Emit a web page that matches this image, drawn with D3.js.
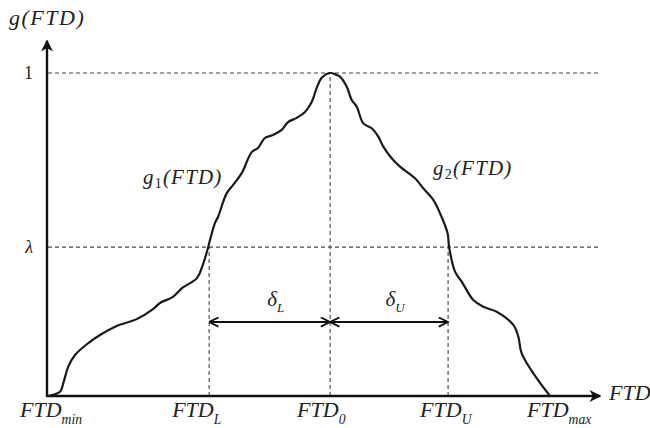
<!DOCTYPE html>
<html>
<head>
<meta charset="utf-8">
<script src="https://cdn.jsdelivr.net/npm/d3@7"></script>
<style>
  body { margin: 0; background: #fff; }
</style>
</head>
<body>
<div id="chart"></div>
<script>
const width = 650;
const height = 428;

// g1 (rising branch) and g2 (falling branch)
const g1X = [0, 2.4, 3.05, 4.04, 5.38, 8.03, 10.36, 13.69, 17.67, 20.92, 22.31, 24.9, 26.69, 29.68, 30.68, 31.87, 32.27, 33.27, 33.86, 35.6, 36.85, 38.59, 40.58, 41.83, 43.23, 44.82, 46.55, 47.81, 49.54, 51.2, 52.53, 53.53, 54.52, 56.18];
const g1Y = [0, 0.013, 0.04, 0.091, 0.127, 0.164, 0.189, 0.217, 0.238, 0.269, 0.288, 0.307, 0.334, 0.365, 0.399, 0.458, 0.483, 0.536, 0.554, 0.628, 0.653, 0.69, 0.755, 0.768, 0.799, 0.808, 0.824, 0.848, 0.861, 0.879, 0.91, 0.954, 0.985, 1.0];
const g2X = [56.18, 57.51, 58.17, 59.5, 60.5, 61.49, 62.81, 64.48, 65.8, 66.79, 68.47, 70.12, 73.11, 74.76, 76.75, 78.09, 79.6, 79.9, 81.08, 82.41, 84.72, 86.71, 89.38, 92.69, 93.69, 94.36, 97.35, 100];
const g2Y = [1.0, 0.994, 0.989, 0.958, 0.916, 0.896, 0.844, 0.829, 0.803, 0.772, 0.736, 0.71, 0.674, 0.643, 0.607, 0.566, 0.504, 0.461, 0.385, 0.354, 0.297, 0.276, 0.261, 0.22, 0.184, 0.132, 0.055, 0];

// key positions on the FTD axis
const ftdMin = 0, ftdL = 32.1, ftd0 = 56.2, ftdU = 79.7, ftdMax = 100;
const lambda = 0.461;

const serif = "'Liberation Serif', 'Times New Roman', 'DejaVu Serif', serif";

const x = d3.scaleLinear().domain([0, 100]).range([48, 550]);
const y = d3.scaleLinear().domain([0, 1]).range([396, 73]);

const svg = d3.select("#chart").append("svg")
  .attr("width", width)
  .attr("height", height)
  .attr("font-family", serif);

const defs = svg.append("defs");
defs.append("marker")
  .attr("id", "tri")
  .attr("viewBox", "0 0 10 10")
  .attr("refX", 9).attr("refY", 5)
  .attr("markerWidth", 5).attr("markerHeight", 5)
  .attr("markerUnits", "strokeWidth")
  .attr("orient", "auto")
  .append("path").attr("d", "M0,0 L10,5 L0,10 L3,5 Z").attr("fill", "#111");
defs.append("marker")
  .attr("id", "chev")
  .attr("viewBox", "0 0 10 10")
  .attr("refX", 9.5).attr("refY", 5)
  .attr("markerWidth", 5).attr("markerHeight", 5)
  .attr("markerUnits", "strokeWidth")
  .attr("orient", "auto-start-reverse")
  .append("path").attr("d", "M1,0.8 L9.5,5 L1,9.2")
  .attr("fill", "none").attr("stroke", "#111").attr("stroke-width", 1.6);

// dashed guide lines
const guides = svg.append("g")
  .attr("stroke", "#444").attr("stroke-width", 1.1).attr("stroke-dasharray", "4,3");
[1, lambda].forEach(v => {
  guides.append("line")
    .attr("x1", x(0)).attr("x2", 598)
    .attr("y1", y(v)).attr("y2", y(v));
});
[[ftdL, lambda], [ftd0, 1], [ftdU, lambda]].forEach(([fx, fy]) => {
  guides.append("line")
    .attr("x1", x(fx)).attr("x2", x(fx))
    .attr("y1", y(0)).attr("y2", y(fy));
});

// axes
svg.append("line")
  .attr("x1", x(0) - 1).attr("y1", y(0))
  .attr("x2", x(110)).attr("y2", y(0))
  .attr("stroke", "#111").attr("stroke-width", 2.4)
  .attr("marker-end", "url(#tri)");
svg.append("line")
  .attr("x1", x(0) - 1).attr("y1", y(0) + 1)
  .attr("x2", x(0) - 1).attr("y2", y(1.1))
  .attr("stroke", "#111").attr("stroke-width", 2.4)
  .attr("marker-end", "url(#tri)");

// the curve
const line = d3.line()
  .x(d => x(d[0]))
  .y(d => y(d[1]))
  .curve(d3.curveCatmullRom.alpha(0.5));
const pts = g1X.map((v, i) => [v, g1Y[i]])
  .concat(g2X.slice(1).map((v, i) => [v, g2Y[i + 1]]));
svg.append("path")
  .datum(pts)
  .attr("d", line)
  .attr("fill", "none")
  .attr("stroke", "#1a1a1a")
  .attr("stroke-width", 2.2)
  .attr("stroke-linejoin", "round");

// delta arrows
const arrowY = 322;
[[ftd0, ftdL], [ftd0, ftdU]].forEach(([a, b]) => {
  svg.append("line")
    .attr("x1", x(a)).attr("x2", x(b))
    .attr("y1", arrowY).attr("y2", arrowY)
    .attr("stroke", "#111").attr("stroke-width", 2.2)
    .attr("marker-start", "url(#chev)")
    .attr("marker-end", "url(#chev)");
});

// labels
function subLabel(tx, ty, main, sub, size, anchor) {
  const t = svg.append("text")
    .attr("x", tx).attr("y", ty)
    .attr("font-size", size)
    .attr("font-style", "italic")
    .attr("fill", "#222")
    .attr("text-anchor", anchor || "start");
  t.append("tspan").text(main);
  if (sub) {
    t.append("tspan")
      .attr("dy", size * 0.3)
      .attr("font-size", size * 0.62)
      .text(sub);
  }
  return t;
}

subLabel(x(ftdMin) - 28, 417, "FTD", "min", 22);
subLabel(x(ftdL) - 37, 417, "FTD", "L", 22);
subLabel(x(ftd0) - 33, 417, "FTD", "0", 22);
subLabel(x(ftdU) - 28, 417, "FTD", "U", 22);
subLabel(x(ftdMax) - 23, 417, "FTD", "max", 22);
subLabel(609, 400, "FTD", null, 22);

svg.append("text").attr("x", 9).attr("y", 25)
  .attr("font-size", 22).attr("font-style", "italic").attr("fill", "#222")
  .attr("letter-spacing", 1.5).text("g(FTD)");

function gLabel(tx, ty, n) {
  const t = svg.append("text").attr("x", tx).attr("y", ty)
    .attr("font-size", 21).attr("font-style", "italic").attr("fill", "#222")
    .attr("letter-spacing", 1.2);
  t.append("tspan").text("g");
  t.append("tspan").attr("dy", 4).attr("font-size", 14).attr("font-style", "normal").text(n);
  t.append("tspan").attr("dy", -4).text("(FTD)");
}
gLabel(143, 184, "1");
gLabel(433, 175, "2");

subLabel((x(ftdL) + x(ftd0)) / 2 + 6, 306, "δ", "L", 21, "middle");
subLabel((x(ftd0) + x(ftdU)) / 2 + 6, 306, "δ", "U", 21, "middle");

svg.append("text").attr("x", 33).attr("y", y(1)).attr("dy", "0.35em")
  .attr("text-anchor", "end").attr("font-size", 18).attr("fill", "#222").text("1");
svg.append("text").attr("x", 33).attr("y", y(lambda)).attr("dy", "0.35em")
  .attr("text-anchor", "end").attr("font-size", 18).attr("font-style", "italic")
  .attr("fill", "#222").text("λ");
</script>
</body>
</html>
